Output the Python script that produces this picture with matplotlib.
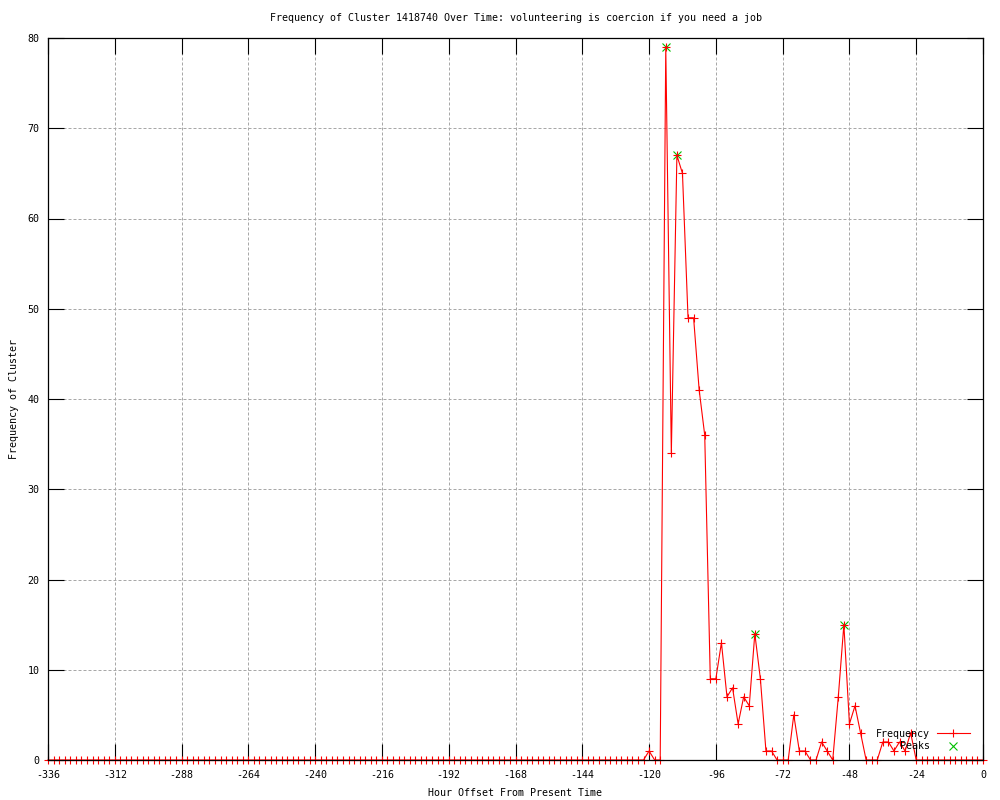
import matplotlib
matplotlib.use("Agg")
import matplotlib.pyplot as plt
from matplotlib.lines import Line2D
import numpy as np

plt.rcParams["font.family"] = ["DejaVu Sans Mono"]
plt.rcParams["font.size"] = 7.2
plt.rcParams["axes.unicode_minus"] = False

# ---------------------------------------------------------------------------
# data, one sample every 2 hours
# ---------------------------------------------------------------------------
hours = np.arange(-336, 1, 2)
freq_quiet = [0] * 108          # -336 .. -122: nothing
freq_active = [1, 0, 0, 79, 34, 67, 65, 49, 49, 41, 36, 9, 9, 13, 7, 8, 4, 7,
               6, 14, 9, 1, 1, 0, 0, 0, 5, 1, 1, 0, 0, 2, 1, 0, 7, 15, 4, 6,
               3, 0, 0, 0, 2, 2, 1, 2, 1, 3, 0,
               0, 0, 0, 0, 0, 0, 0, 0, 0, 0, 0, 0]   # -120 .. 0
freq = freq_quiet + freq_active

peak_hours = [-114, -110, -82, -50]
peak_vals = [79, 67, 14, 15]

x_ticks = list(range(-336, 1, 24))
y_ticks = list(range(0, 81, 10))

title = "Frequency of Cluster 1418740 Over Time: volunteering is coercion if you need a job"

# ---------------------------------------------------------------------------
fig = plt.figure(figsize=(10, 8), dpi=100)
ax = fig.add_axes([0.048, 0.05, 0.935, 0.9025])

ax.plot(peak_hours, peak_vals, linestyle="none", marker="x", color="#00c000",
        markersize=5.5, markeredgewidth=0.8, clip_on=False, zorder=2)
ax.plot(hours, freq, color="#ff0000", linewidth=0.8, marker="+",
        markersize=6, markeredgewidth=0.8, clip_on=False, zorder=3)

ax.set_xlim(-336, 0)
ax.set_ylim(0, 80)
ax.set_xticks(x_ticks)
ax.set_yticks(y_ticks)

ax.tick_params(direction="in", length=11.5, width=0.8, top=True, right=True,
               labelsize=7.2, color="black")
ax.tick_params(axis="x", pad=7)
ax.tick_params(axis="y", pad=6)

ax.grid(True, color="#a8a8a8", linestyle=(0, (3, 2)), linewidth=0.72)
ax.set_axisbelow(True)
for s in ax.spines.values():
    s.set_linewidth(0.9)
    s.set_zorder(5)

ax.set_title(title, fontsize=7.2, pad=12)
ax.set_xlabel("Hour Offset From Present Time", fontsize=7.2, labelpad=6)
ax.set_ylabel("Frequency of Cluster", fontsize=7.2, labelpad=6)

# legend a la gnuplot: text right-aligned, sample after the text
h_freq = Line2D([], [], color="#ff0000", linewidth=0.8, marker="+",
                markersize=6, markeredgewidth=0.8)
h_peak = Line2D([], [], linestyle="none", color="#00c000", marker="x",
                markersize=5.5, markeredgewidth=0.8)
ax.legend([h_freq, h_peak], ["Frequency", "    Peaks"], loc="lower right",
          bbox_to_anchor=(0.986, 0.012), frameon=False, markerfirst=False,
          handlelength=3.3, handletextpad=0.7, labelspacing=0.25,
          borderpad=0, borderaxespad=0, fontsize=7.2)

fig.savefig("out.png", dpi=100)
